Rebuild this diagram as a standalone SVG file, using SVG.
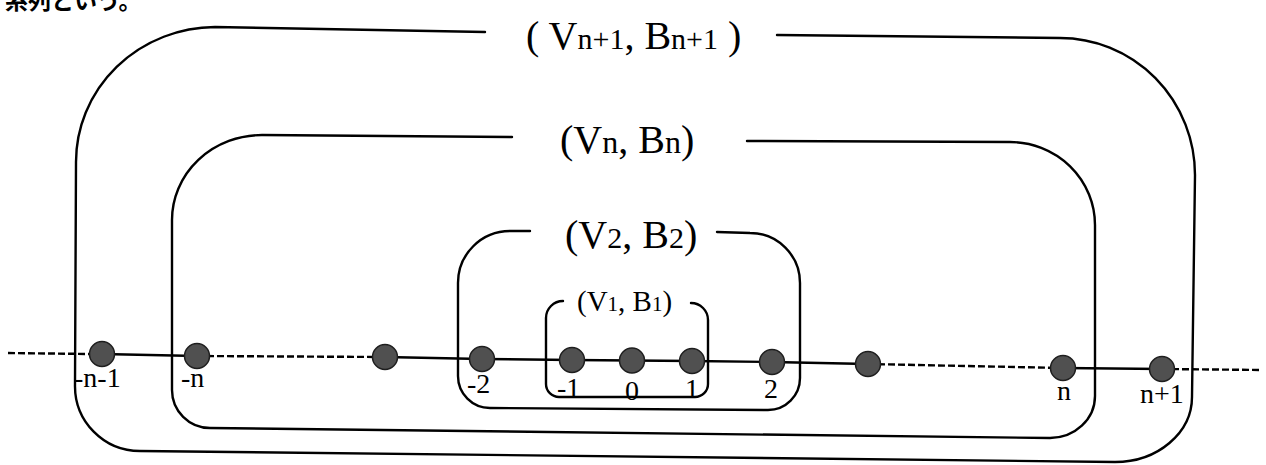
<svg xmlns="http://www.w3.org/2000/svg" width="1266" height="465" viewBox="0 0 1266 465">
<style>
.box{fill:none;stroke:#000;stroke-width:2.4;stroke-linecap:round}
.solid{fill:none;stroke:#000;stroke-width:2.4}
.dash{fill:none;stroke:#000;stroke-width:2.4;stroke-dasharray:7 3}
.node{fill:#505050;stroke:#1e1e1e;stroke-width:1.5}
.t{font-family:"Liberation Serif","Times New Roman",serif;fill:#000}
.lbl{font-family:"Liberation Serif","Times New Roman",serif;font-size:28px;fill:#000}
.jp{font-family:"Noto Sans CJK JP",sans-serif;font-weight:bold;font-size:23px;fill:#000}
</style>
<rect width="1266" height="465" fill="#fff"/>
<text class="jp" x="5" y="9">系列という。</text>

<g id="box-n1">
<path class="box" d="M485,32 L215,27 A140,135 0 0 0 76,162 L75,385 A65,65 0 0 0 140,451 L1115,462 A77,65 0 0 0 1192,397 L1195,175 A135,137 0 0 0 1060,38 L777,35"/>
<text class="t" x="526" y="49" font-size="40">( V<tspan font-size="30">n+1</tspan>, B<tspan font-size="30">n+1</tspan> )</text>
</g>

<g id="box-n">
<path class="box" d="M512,137 L262,135 A90,85 0 0 0 172,220 L172,390 A38,38 0 0 0 210,428 L1050,438 A45,42 0 0 0 1095,396 L1095,225 A85,83 0 0 0 1010,142 L747,141"/>
<text class="t" x="560" y="153" font-size="40">(V<tspan font-size="32">n</tspan>, B<tspan font-size="32">n</tspan>)</text>
</g>

<g id="box-2">
<path class="box" d="M530,231 L510,231 A52,52 0 0 0 458,283 L458,376 A32,32 0 0 0 490,408 L768,410 A32,32 0 0 0 800,378 L800,283 A50,50 0 0 0 750,233 L717,232"/>
<text class="t" x="565" y="248" font-size="40">(V<tspan font-size="30">2</tspan>, B<tspan font-size="30">2</tspan>)</text>
</g>

<g id="box-1">
<path class="box" d="M563,301 A17,17 0 0 0 546,318 L546,384 A13,13 0 0 0 559,397 L695,397 A13,13 0 0 0 708,384 L708,320 A17,17 0 0 0 691,303"/>
<text class="t" x="577" y="311" font-size="29">(V<tspan font-size="21">1</tspan>, B<tspan font-size="21">1</tspan>)</text>
</g>

<g id="connectors">
<line class="dash" x1="8" y1="353" x2="90" y2="354"/>
<line class="solid" x1="102" y1="354" x2="197" y2="356"/>
<line class="dash" x1="197" y1="356" x2="385" y2="357"/>
<polyline class="solid" points="385,357 482,359 572,360 632,360.5 692,361 772,362 868,364"/>
<line class="dash" x1="868" y1="364" x2="1063" y2="368"/>
<line class="solid" x1="1063" y1="368" x2="1162" y2="369"/>
<line class="dash" x1="1162" y1="369" x2="1262" y2="370"/>
</g>

<g id="node-m-n-1"><circle class="node" cx="102" cy="354" r="12.5"/><text class="lbl" x="74" y="387">-n-1</text></g>
<g id="node-m-n"><circle class="node" cx="197" cy="356" r="12.5"/><text class="lbl" x="181" y="387">-n</text></g>
<g id="node-m-3"><circle class="node" cx="385" cy="357" r="12.5"/></g>
<g id="node-m-2"><circle class="node" cx="482" cy="359" r="12.5"/><text class="lbl" x="467" y="393">-2</text></g>
<g id="node-m-1"><circle class="node" cx="572" cy="360" r="12.5"/><text class="lbl" x="557" y="397">-1</text></g>
<g id="node-0"><circle class="node" cx="632" cy="360.5" r="12.5"/><text class="lbl" x="632" y="400" text-anchor="middle">0</text></g>
<g id="node-1"><circle class="node" cx="692" cy="361" r="12.5"/><text class="lbl" x="692" y="398" text-anchor="middle">1</text></g>
<g id="node-2"><circle class="node" cx="772" cy="362" r="12.5"/><text class="lbl" x="771" y="398" text-anchor="middle">2</text></g>
<g id="node-3"><circle class="node" cx="868" cy="364" r="12.5"/></g>
<g id="node-n"><circle class="node" cx="1063" cy="368" r="12.5"/><text class="lbl" x="1064" y="400" text-anchor="middle">n</text></g>
<g id="node-n1"><circle class="node" cx="1162" cy="369" r="12.5"/><text class="lbl" x="1140" y="403">n+1</text></g>
</svg>
